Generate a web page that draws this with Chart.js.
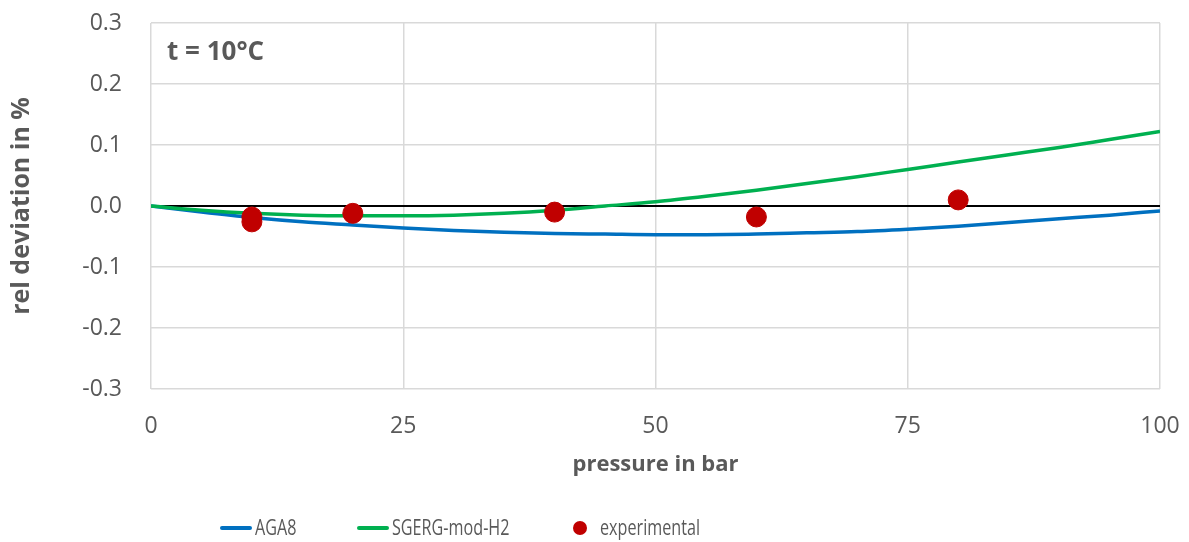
<!DOCTYPE html>
<html>
<head>
<meta charset="utf-8">
<script src="https://cdn.jsdelivr.net/npm/chart.js@4"></script>
<style>
  html, body { margin: 0; padding: 0; background: #fff; }
  #wrap { position: relative; width: 1189px; height: 542px; }
  #legend { position: absolute; left: 0; top: 513px; width: 1189px; height: 28px;
    font-family: "Open Sans", sans-serif; font-size: 21px; color: #595959; }
  .item { position: absolute; top: 0; line-height: 28px; white-space: nowrap; }
  .swatch { position: absolute; }
  .txt { display: inline-block; transform: scaleX(0.77); transform-origin: left center; }
</style>
</head>
<body>
<div id="wrap">
  <canvas id="chart" width="1189" height="542"></canvas>
  <div id="legend"></div>
</div>
<script>
// curve sample positions (bar)
const pressures = [0, 5, 10, 15, 20, 25, 30, 35, 40, 45, 50, 55, 60, 65, 70, 75, 80, 85, 90, 95, 100];
const aga8 = [0, -0.010, -0.019, -0.026, -0.031, -0.036, -0.040, -0.043, -0.045, -0.046, -0.047, -0.047, -0.046, -0.044, -0.042, -0.038, -0.033, -0.027, -0.021, -0.015, -0.008];
const sgerg = [0, -0.007, -0.012, -0.015, -0.016, -0.016, -0.015, -0.012, -0.007, 0.000, 0.007, 0.016, 0.026, 0.037, 0.048, 0.060, 0.072, 0.084, 0.096, 0.109, 0.122];

// experimental points
const expPressures = [10, 10, 20, 40, 60, 80];
const expValues = [-0.018, -0.026, -0.012, -0.010, -0.018, 0.010];

const seriesNames = ["AGA8", "SGERG-mod-H2", "experimental"];
const seriesColors = ["#0070C0", "#00B050", "#C00000"];
const xTicks = [0, 25, 50, 75, 100];
const yTicks = [-0.3, -0.2, -0.1, 0.0, 0.1, 0.2, 0.3];

const FONT = "'Open Sans', sans-serif";
const GREY = "#595959";

const toXY = (xs, ys) => xs.map((x, i) => ({ x: x, y: ys[i] }));

// text label inside the plot area
const notePlugin = {
  id: "note",
  afterDraw(chart) {
    const ctx = chart.ctx;
    const a = chart.chartArea;
    ctx.save();
    ctx.font = "bold 26px " + FONT;
    ctx.fillStyle = GREY;
    ctx.textBaseline = "middle";
    ctx.fillText("t = 10°C", a.left + 16, a.top + 30);
    ctx.restore();
  }
};

const ctx = document.getElementById("chart").getContext("2d");
new Chart(ctx, {
  type: "scatter",
  data: {
    datasets: [
      {
        label: seriesNames[0],
        data: toXY(pressures, aga8),
        showLine: true,
        borderColor: seriesColors[0],
        borderWidth: 3.5,
        pointRadius: 0,
        cubicInterpolationMode: "monotone",
        order: 2
      },
      {
        label: seriesNames[1],
        data: toXY(pressures, sgerg),
        showLine: true,
        borderColor: seriesColors[1],
        borderWidth: 3.5,
        pointRadius: 0,
        cubicInterpolationMode: "monotone",
        order: 1
      },
      {
        label: seriesNames[2],
        data: toXY(expPressures, expValues),
        showLine: false,
        backgroundColor: seriesColors[2],
        borderColor: seriesColors[2],
        pointRadius: 10,
        pointHoverRadius: 10,
        order: 0
      }
    ]
  },
  options: {
    responsive: false,
    animation: false,
    layout: { padding: { left: 0, right: 29, top: 23, bottom: 0 } },
    plugins: {
      legend: { display: false },
      tooltip: { enabled: false }
    },
    scales: {
      x: {
        type: "linear",
        min: 0,
        max: 100,
        afterBuildTicks: (s) => { s.ticks = xTicks.map(v => ({ value: v })); },
        afterFit: (s) => { s.height = 153; },
        border: { display: false },
        grid: { color: "#d9d9d9", lineWidth: 1.5, drawTicks: true, tickLength: 20, tickColor: "rgba(0,0,0,0)" },
        ticks: { color: GREY, font: { family: FONT, size: 23 }, padding: 4 },
        title: {
          display: true,
          text: "pressure in bar",
          color: GREY,
          font: { family: FONT, size: 22, weight: "bold" },
          padding: { top: 4, bottom: 64 }
        }
      },
      y: {
        type: "linear",
        min: -0.3,
        max: 0.3,
        afterBuildTicks: (s) => { s.ticks = yTicks.map(v => ({ value: v })); },
        afterFit: (s) => { s.width = 151; },
        border: { display: false },
        grid: {
          drawTicks: true,
          tickLength: 25,
          tickColor: "rgba(0,0,0,0)",
          color: (c) => (Math.abs(c.tick.value) < 1e-9 ? "#000000" : "#d9d9d9"),
          lineWidth: (c) => (Math.abs(c.tick.value) < 1e-9 ? 2 : 1.5)
        },
        ticks: {
          color: GREY,
          font: { family: FONT, size: 23 },
          padding: 4,
          callback: (v) => v.toFixed(1)
        },
        title: {
          display: true,
          text: "rel deviation in %",
          color: GREY,
          font: { family: FONT, size: 25, weight: "bold" },
          padding: { top: 7, bottom: 0 }
        }
      }
    }
  },
  plugins: [notePlugin]
});

// legend below the chart
const legend = document.getElementById("legend");
const legendPos = [220, 357, 573];
seriesNames.forEach((name, i) => {
  const item = document.createElement("div");
  item.className = "item";
  item.style.left = legendPos[i] + "px";
  const sw = document.createElement("span");
  sw.className = "swatch";
  if (i < 2) {
    sw.style.cssText = "left:0;top:13px;width:32px;height:3.5px;border-radius:2px;background:" + seriesColors[i];
    item.style.paddingLeft = "35px";
  } else {
    sw.style.cssText = "left:0;top:8px;width:14px;height:14px;border-radius:50%;background:" + seriesColors[i];
    item.style.paddingLeft = "27px";
  }
  const txt = document.createElement("span");
  txt.className = "txt";
  txt.textContent = name;
  item.appendChild(sw);
  item.appendChild(txt);
  legend.appendChild(item);
});
</script>
</body>
</html>
